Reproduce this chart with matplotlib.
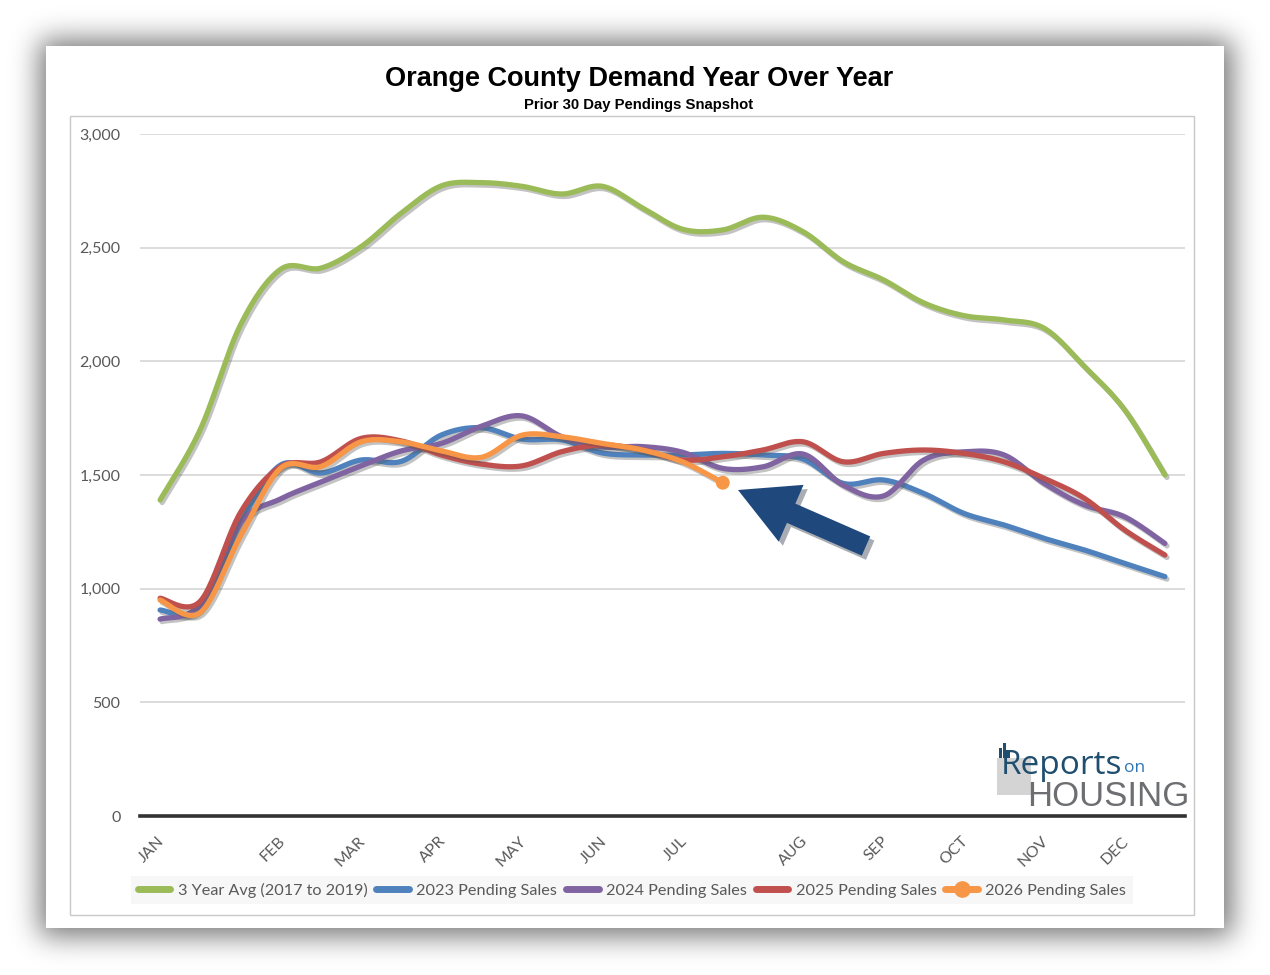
import math
import numpy as np
import matplotlib
matplotlib.use("Agg")
import matplotlib.pyplot as plt
from matplotlib.patches import Rectangle, FancyArrow
from matplotlib.lines import Line2D
from matplotlib.transforms import Affine2D, ScaledTranslation
import matplotlib.patheffects as pe

# ---------------- data ----------------
tick_labels = ['JAN', '', '', 'FEB', '', 'MAR', '', 'APR', '', 'MAY', '', 'JUN', '',
               'JUL', '', '', 'AUG', '', 'SEP', '', 'OCT', '', 'NOV', '', 'DEC', '']

avg_2017_2019 = [1390, 1700, 2160, 2405, 2410, 2504, 2652, 2772, 2786, 2770, 2736, 2770, 2675,
                 2581, 2578, 2634, 2570, 2438, 2358, 2257, 2201, 2182, 2145, 1977, 1786, 1500]
sales_2023 = [906, 912, 1290, 1544, 1509, 1566, 1560, 1676, 1708, 1658, 1654, 1597, 1588,
              1588, 1595, 1588, 1570, 1463, 1478, 1419, 1331, 1280, 1221, 1170, 1111, 1053]
sales_2024 = [866, 930, 1290, 1395, 1469, 1540, 1606, 1639, 1715, 1760, 1668, 1624, 1625,
              1600, 1529, 1536, 1592, 1455, 1408, 1566, 1602, 1588, 1463, 1368, 1316, 1199]
sales_2025 = [958, 945, 1335, 1537, 1558, 1661, 1650, 1588, 1548, 1540, 1603, 1632, 1610,
              1566, 1580, 1610, 1646, 1558, 1595, 1610, 1595, 1558, 1485, 1397, 1258, 1148]
sales_2026 = [950, 895, 1230, 1530, 1537, 1646, 1646, 1606, 1578, 1675, 1668, 1639, 1610,
              1558, 1466]

series_names = ['3 Year Avg (2017 to 2019)', '2023 Pending Sales', '2024 Pending Sales',
                '2025 Pending Sales', '2026 Pending Sales']
series_values = [avg_2017_2019, sales_2023, sales_2024, sales_2025, sales_2026]
series_colors = ['#9BBB59', '#4F81BD', '#8064A2', '#C0504D', '#F79646']

title = 'Orange County Demand Year Over Year'
subtitle = 'Prior 30 Day Pendings Snapshot'

# ---------------- helpers ----------------
W, H = 1270, 975


def smooth(vals, n=24):
    """Catmull-Rom spline through the points (Excel-like smoothed line)."""
    p = np.asarray(vals, dtype=float)
    x = np.arange(len(p), dtype=float)
    pts = np.column_stack([x, p])
    ext = np.vstack([pts[0], pts, pts[-1]])
    out = []
    t = np.linspace(0, 1, n, endpoint=False)[:, None]
    for i in range(len(pts) - 1):
        p0, p1, p2, p3 = ext[i], ext[i + 1], ext[i + 2], ext[i + 3]
        seg = 0.5 * ((2 * p1) + (-p0 + p2) * t + (2 * p0 - 5 * p1 + 4 * p2 - p3) * t ** 2
                     + (-p0 + 3 * p1 - 3 * p2 + p3) * t ** 3)
        out.append(seg)
    out.append(pts[-1][None, :])
    out = np.vstack(out)
    return out[:, 0], out[:, 1]


# ---------------- figure ----------------
plt.rcParams['font.family'] = ['Lato', 'DejaVu Sans']
fig = plt.figure(figsize=(W / 100, H / 100), dpi=100)
fig.patch.set_facecolor('white')

# soft shadow around the card
erf = np.vectorize(math.erf)
xs = np.arange(W) + 0.5
ys = np.arange(H) + 0.5


def band(v, a, b, s):
    return 0.5 * (erf((v - a) / (s * math.sqrt(2))) - erf((v - b) / (s * math.sqrt(2))))


fx = band(xs, 40, 1232, 14)
fy = band(ys, 40, 936, 14)
shadow = np.zeros((H, W, 4))
shadow[..., 3] = 0.55 * np.outer(fy, fx)
fig.figimage(shadow, 0, 0, origin='upper', zorder=0)

fig.add_artist(Rectangle((46 / W, 1 - 928 / H), 1178 / W, 882 / H, transform=fig.transFigure,
                         facecolor='white', edgecolor='none', zorder=1))
fig.add_artist(Rectangle((70 / W, 1 - 915 / H), 1124 / W, 799 / H, transform=fig.transFigure,
                         facecolor='none', edgecolor='#C8C8C8', lw=1.0, zorder=2))

fig.text(639 / W, 1 - 79 / H, title, ha='center', va='center', fontsize=19.5,
         fontweight='bold', family='Liberation Sans', color='black', zorder=5)
fig.text(639 / W, 1 - 105 / H, subtitle, ha='center', va='center', fontsize=10.7,
         fontweight='bold', family='Liberation Sans', color='black', zorder=5)

ax = fig.add_axes([140 / W, 1 - 816 / H, 1045 / W, 682 / H])
ax.set_zorder(5)
ax.patch.set_alpha(0)

shadow_fx = [pe.SimpleLineShadow(offset=(1.5, -1.8), shadow_color='#555555', alpha=0.35),
             pe.Normal()]

for name, vals, col in zip(series_names, series_values, series_colors):
    sx, sy = smooth(vals)
    ax.plot(sx, sy, color=col, lw=3.8, solid_capstyle='round', path_effects=shadow_fx,
            zorder=3)

# marker at the last 2026 point
last_x = len(sales_2026) - 1
ax.plot([last_x], [sales_2026[-1]], 'o', color=series_colors[4], markersize=10,
        markeredgewidth=0, zorder=4, path_effects=shadow_fx)

ax.set_xlim(-0.5, len(tick_labels) - 0.5)
ax.set_ylim(0, 3000)
ax.set_yticks(np.arange(0, 3001, 500))
ax.yaxis.set_major_formatter(matplotlib.ticker.FuncFormatter(lambda v, p: f'{v:,.0f}'))
ax.set_xticks(np.arange(len(tick_labels)))
ax.set_xticklabels(tick_labels, rotation=45, ha='right', va='top', rotation_mode='anchor')
ax.tick_params(axis='both', length=0, colors='#595959', labelsize=11.5)
ax.tick_params(axis='y', pad=14)
ax.tick_params(axis='x', pad=13)
offset = ScaledTranslation(-2 / 72, 0, fig.dpi_scale_trans)
for lbl in ax.get_xticklabels():
    lbl.set_transform(lbl.get_transform() + offset)

ax.yaxis.grid(True, color='#D9D9D9', lw=1.3)
ax.set_axisbelow(True)
for side in ['left', 'right', 'top']:
    ax.spines[side].set_visible(False)
ax.spines['bottom'].set_color('#333333')
ax.spines['bottom'].set_linewidth(2.6)
ax.spines['bottom'].set_zorder(2.5)

# legend
handles = []
for i, (name, col) in enumerate(zip(series_names, series_colors)):
    if i == 4:
        handles.append(Line2D([], [], color=col, lw=5, marker='o', markersize=11,
                              markevery=[1], solid_capstyle='round'))
    else:
        handles.append(Line2D([], [], color=col, lw=5, solid_capstyle='round'))
leg = fig.legend(handles, series_names, loc='center', bbox_to_anchor=(632 / W, 1 - 890 / H),
                 ncol=5, frameon=True, fontsize=11.7, handlelength=2.0, columnspacing=0.55,
                 handletextpad=0.45, borderpad=0.4, labelcolor='#595959')
leg.get_frame().set_facecolor('#F6F6F6')
leg.get_frame().set_edgecolor('none')
leg.get_frame().set_boxstyle('square', pad=0.0)
leg.set_zorder(6)

# arrow annotation (pixel coordinates, y from top)
pix = Affine2D().scale(1 / W, 1 / H) + fig.transFigure
tip = (738, 490)
tail = (866, 546)
arr = FancyArrow(tail[0], H - tail[1], tip[0] - tail[0], -(tip[1] - tail[1]), width=21,
                 head_width=62, head_length=58, length_includes_head=True,
                 transform=pix, facecolor='#1F497D', edgecolor='none', zorder=7,
                 path_effects=[pe.SimplePatchShadow(offset=(3, -3), alpha=0.35), pe.Normal()])
fig.add_artist(arr)

# logo
fig.add_artist(Rectangle((997 / W, 1 - 795 / H), 34 / W, 37 / H, transform=fig.transFigure,
                         facecolor='#D4D4D4', edgecolor='none', zorder=6))
for bx, bh in [(999, 10), (1003, 15), (1007, 7)]:
    fig.add_artist(Rectangle((bx / W, 1 - 758 / H), 3 / W, bh / H, transform=fig.transFigure,
                             facecolor='#1F4E6E', edgecolor='none', zorder=7))
fig.text(1001 / W, 1 - 765 / H, 'Reports', ha='left', va='center', fontsize=24,
         color='#1F4E6E', family='Open Sans', zorder=8)
fig.text(1124 / W, 1 - 768 / H, 'on', ha='left', va='center', fontsize=12.5,
         color='#2E75B6', family='Open Sans', zorder=8)
fig.text(1189 / W, 1 - 796 / H, 'HOUSING', ha='right', va='center', fontsize=25,
         color='#6D6E71', family='Liberation Sans', zorder=8)

fig.savefig('out.png', dpi=100, facecolor='white')
